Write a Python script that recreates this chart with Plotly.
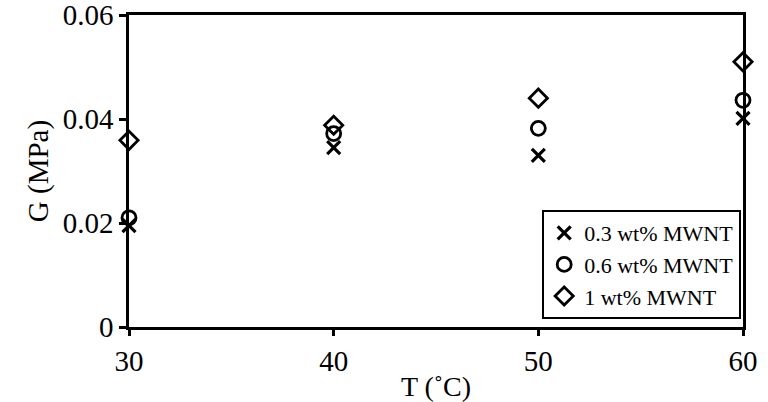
import plotly.graph_objects as go

temps = [30, 40, 50, 60]
g_03 = [0.0195, 0.0345, 0.033, 0.0401]
g_06 = [0.021, 0.0372, 0.0382, 0.0436]
g_10 = [0.0359, 0.0388, 0.044, 0.051]
names = ["0.3 wt% MWNT", "0.6 wt% MWNT", "1 wt% MWNT"]

FONT = "Liberation Serif, Times New Roman, serif"

fig = go.Figure()
fig.add_trace(go.Scatter(x=temps, y=g_03, mode="markers", name=names[0], cliponaxis=False,
                         marker=dict(symbol="x-thin-open", size=13, color="black",
                                     line=dict(width=3.2, color="black"))))
fig.add_trace(go.Scatter(x=temps, y=g_06, mode="markers", name=names[1], cliponaxis=False,
                         marker=dict(symbol="circle-open", size=14, color="black",
                                     line=dict(width=2.8, color="black"))))
fig.add_trace(go.Scatter(x=temps, y=g_10, mode="markers", name=names[2], cliponaxis=False,
                         marker=dict(symbol="diamond-open", size=14, color="black",
                                     line=dict(width=2.8, color="black"))))

fig.update_layout(
    width=768, height=402,
    margin=dict(l=129, r=25, t=15, b=75),
    paper_bgcolor="white", plot_bgcolor="white",
    font=dict(family=FONT, size=28, color="black"),
    showlegend=True,
    legend=dict(x=0.835, y=0.375, xanchor="center", yanchor="top",
                bordercolor="black", borderwidth=2, bgcolor="white",
                font=dict(family=FONT, size=22, color="black"),
                itemwidth=30, tracegroupgap=0),
    xaxis=dict(range=[30, 60], tickvals=temps, ticktext=["30", "40", "50", "60"],
               showline=True, linecolor="black", linewidth=2.5, mirror=True,
               ticks="outside", ticklen=6, tickwidth=2.5, tickcolor="black",
               showgrid=False, zeroline=False, ticklabeloverflow="allow", automargin=False,
               title=dict(text="T (˚C)", font=dict(family=FONT, size=28), standoff=2),
               tickfont=dict(family=FONT, size=29)),
    yaxis=dict(range=[0, 0.06], tickvals=[0, 0.02, 0.04, 0.06],
               ticktext=["0", "0.02", "0.04", "0.06"],
               showline=True, linecolor="black", linewidth=2.5, mirror=True,
               ticks="outside", ticklen=7, tickwidth=2.5, tickcolor="black",
               showgrid=False, zeroline=False, ticklabeloverflow="allow", automargin=False,
               title=dict(text="G (MPa)", font=dict(family=FONT, size=29), standoff=6),
               tickfont=dict(family=FONT, size=29)),
)

fig.write_html("out.html", config={"displayModeBar": False},
               post_script="document.body.style.margin='0';document.body.style.overflow='hidden';")
